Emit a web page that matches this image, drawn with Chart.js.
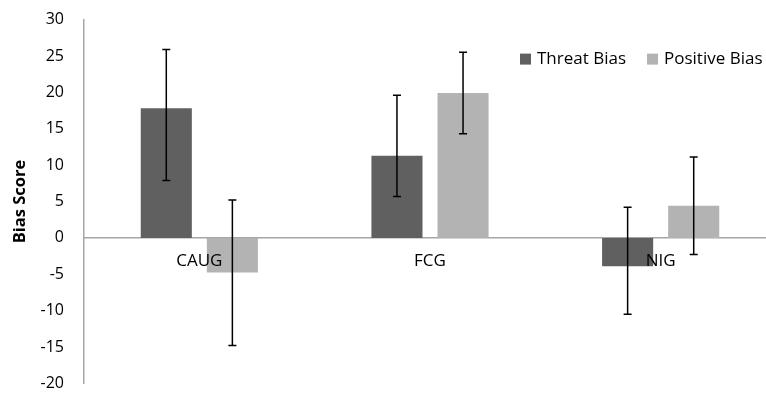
<!DOCTYPE html>
<html>
<head>
<meta charset="utf-8">
<script src="https://cdn.jsdelivr.net/npm/chart.js@4.4.1/dist/chart.umd.min.js"></script>
<style>
  html, body { margin: 0; padding: 0; background: #fff; overflow: hidden; }
  #wrap { width: 776px; height: 399px; overflow: hidden; }
  #biasChart { display: block; margin-top: -10px; }
</style>
</head>
<body>
<div id="wrap"><canvas id="biasChart" width="776" height="423"></canvas></div>
<script>
// Bias scores per group
const groups = ['CAUG', 'FCG', 'NIG'];
const threatBias = [17.8, 11.3, -3.9];
const positiveBias = [-4.75, 19.9, 4.4];
// error bar ends (low / high)
const threatLow = [7.9, 5.7, -10.5];
const threatHigh = [25.9, 19.6, 4.2];
const positiveLow = [-14.8, 14.3, -2.3];
const positiveHigh = [5.2, 25.5, 11.1];
const yTicks = [-20, -15, -10, -5, 0, 5, 10, 15, 20, 25, 30];

const fontFamily = "'Open Sans', 'Noto Sans', sans-serif";

// draws the whiskers on top of each bar
const errorBars = {
  id: 'errorBars',
  afterDatasetsDraw(chart) {
    const ctx = chart.ctx;
    const y = chart.scales.y;
    chart.data.datasets.forEach((ds, i) => {
      const meta = chart.getDatasetMeta(i);
      meta.data.forEach((bar, j) => {
        const top = y.getPixelForValue(ds.errHigh[j]);
        const bottom = y.getPixelForValue(ds.errLow[j]);
        ctx.save();
        ctx.strokeStyle = '#000';
        ctx.lineWidth = 1.5;
        ctx.beginPath();
        ctx.moveTo(bar.x, top);
        ctx.lineTo(bar.x, bottom);
        ctx.moveTo(bar.x - 4, top);
        ctx.lineTo(bar.x + 4, top);
        ctx.moveTo(bar.x - 4, bottom);
        ctx.lineTo(bar.x + 4, bottom);
        ctx.stroke();
        ctx.restore();
      });
    });
  }
};

// legend sitting inside the plot, upper right
const insideLegend = {
  id: 'insideLegend',
  afterDraw(chart) {
    const ctx = chart.ctx;
    const area = chart.chartArea;
    let x = area.left + 436;
    const cy = area.top + 39.5;
    ctx.save();
    ctx.font = '17px ' + fontFamily;
    ctx.textBaseline = 'middle';
    ctx.textAlign = 'left';
    chart.data.datasets.forEach(ds => {
      ctx.fillStyle = ds.backgroundColor;
      ctx.fillRect(x, cy - 5.5, 11, 11);
      ctx.fillStyle = '#000';
      ctx.fillText(ds.label, x + 17, cy);
      x += 17 + ctx.measureText(ds.label).width + 21;
    });
    ctx.restore();
  }
};

new Chart(document.getElementById('biasChart'), {
  type: 'bar',
  data: {
    labels: groups,
    datasets: [
      {
        label: 'Threat Bias',
        data: threatBias,
        errLow: threatLow,
        errHigh: threatHigh,
        backgroundColor: '#606060',
        borderWidth: 0
      },
      {
        label: 'Positive Bias',
        data: positiveBias,
        errLow: positiveLow,
        errHigh: positiveHigh,
        backgroundColor: '#b3b3b3',
        borderWidth: 0
      }
    ]
  },
  options: {
    responsive: false,
    animation: false,
    categoryPercentage: 0.573,
    barPercentage: 0.773,
    layout: {
      padding: { top: 0, right: 0, bottom: 0, left: 0 }
    },
    plugins: {
      legend: { display: false },
      tooltip: { enabled: false }
    },
    scales: {
      x: {
        position: { y: 0 },
        afterFit(scale) {
          scale.height = 0;
        },
        grid: { display: false, drawTicks: false },
        border: { display: true, color: '#a6a6a6', width: 1.5 },
        ticks: {
          z: 1,  // category names sit on top of the bars
          padding: 13,
          color: '#000',
          font: { family: fontFamily, size: 17 }
        }
      },
      y: {
        min: -20,
        max: 30,
        afterBuildTicks(scale) {
          scale.ticks = yTicks.map(v => ({ value: v }));
        },
        afterFit(scale) {
          scale.width = 84;
        },
        grid: { display: false, drawTicks: false },
        border: { display: true, color: '#a6a6a6', width: 1.5 },
        ticks: {
          padding: 20,
          color: '#000',
          font: { family: fontFamily, size: 16 }
        },
        title: {
          display: true,
          text: 'Bias Score',
          color: '#000',
          padding: { top: 10, bottom: 0 },
          font: { family: fontFamily, size: 16.5, weight: 'bold' }
        }
      }
    }
  },
  plugins: [errorBars, insideLegend]
});
</script>
</body>
</html>
